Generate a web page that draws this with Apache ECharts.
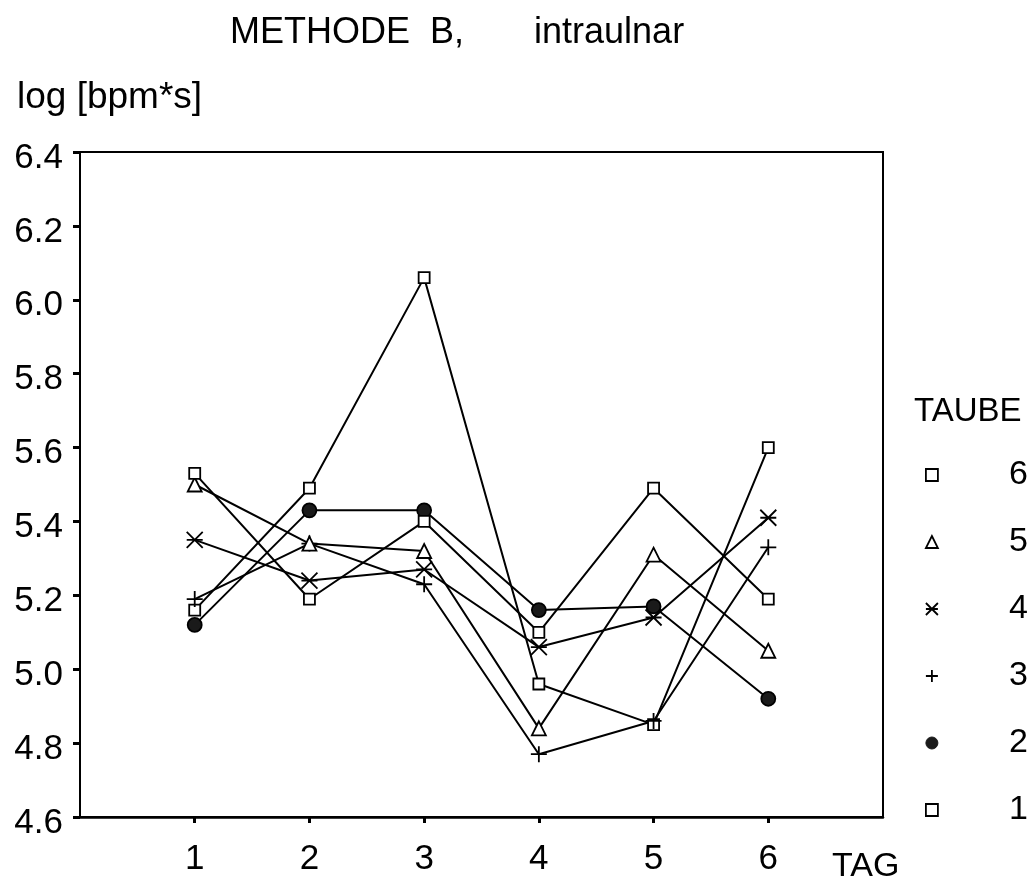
<!DOCTYPE html>
<html>
<head>
<meta charset="utf-8">
<script src="https://cdn.jsdelivr.net/npm/echarts@6/dist/echarts.min.js"></script>
<style>
  html, body { margin: 0; padding: 0; background: #fff; }
  #chart { width: 1035px; height: 877px; }
</style>
</head>
<body>
<div id="chart"></div>
<script>
var tage = [1, 2, 3, 4, 5, 6];
var taube1 = [5.16, 5.49, 6.06, 4.96, 4.85, 5.60];
var taube2 = [5.12, 5.43, 5.43, 5.16, 5.17, 4.92];
var taube3 = [5.19, 5.34, 5.23, 4.77, 4.86, 5.33];
var taube4 = [5.35, 5.24, 5.27, 5.06, 5.14, 5.41];
var taube5 = [5.50, 5.34, 5.32, 4.84, 5.31, 5.05];
var taube6 = [5.53, 5.19, 5.40, 5.10, 5.49, 5.19];

var FONT = 'Liberation Sans, Arial, sans-serif';
var symStern = 'path://M0,0L10,10M10,0L0,10M0,5L10,5';
var symPlus = 'path://M5,0L5,10M0,5L10,5';

function punkte(werte) {
  return tage.map(function (t, i) { return [t, werte[i]]; });
}

function reihe(name, werte, symbol, size, fill) {
  return {
    name: name,
    type: 'line',
    data: punkte(werte),
    symbol: symbol,
    symbolSize: size,
    showAllSymbol: true,
    lineStyle: { color: '#000', width: 2 },
    itemStyle: { color: fill, borderColor: '#000', borderWidth: 1.8 },
    emphasis: { disabled: true }
  };
}

var myChart = echarts.init(document.getElementById('chart'));

var option = {
  backgroundColor: '#fff',
  animation: false,
  title: [
    { text: 'METHODE  B,       intraulnar', left: 225, top: 10,
      textStyle: { fontFamily: FONT, fontSize: 36, fontWeight: 'normal', color: '#000' } },
    { text: 'log [bpm*s]', left: 12, top: 74,
      textStyle: { fontFamily: FONT, fontSize: 37, fontWeight: 'normal', color: '#000' } },
    { text: 'TAG', left: 827, top: 845,
      textStyle: { fontFamily: FONT, fontSize: 34, fontWeight: 'normal', color: '#000' } },
    { text: 'TAUBE', left: 909, top: 390,
      textStyle: { fontFamily: FONT, fontSize: 33, fontWeight: 'normal', color: '#000' } }
  ],
  legend: {
    orient: 'vertical',
    left: 920,
    top: 438,
    itemWidth: 12,
    itemHeight: 12,
    itemGap: 3,
    selectedMode: false,
    textStyle: { fontFamily: FONT, fontSize: 34, color: '#000', lineHeight: 40, padding: [24, 0, 0, 66] },
    data: [
      { name: '6', icon: 'rect', itemStyle: { color: '#fff', borderColor: '#000', borderWidth: 1.8 } },
      { name: '5', icon: 'triangle', itemStyle: { color: '#fff', borderColor: '#000', borderWidth: 1.8 } },
      { name: '4', icon: symStern, itemStyle: { color: '#000', borderColor: '#000', borderWidth: 1.8 } },
      { name: '3', icon: symPlus, itemStyle: { color: '#000', borderColor: '#000', borderWidth: 1.8 } },
      { name: '2', icon: 'circle', itemStyle: { color: '#1a1a1a', borderColor: '#1a1a1a', borderWidth: 1 } },
      { name: '1', icon: 'rect', itemStyle: { color: '#fff', borderColor: '#000', borderWidth: 1.8 } }
    ]
  },
  grid: {
    left: 80, right: 152, top: 152, bottom: 58,
    show: true, borderColor: '#000', borderWidth: 2, backgroundColor: 'transparent'
  },
  xAxis: {
    type: 'value',
    min: 0, max: 7, interval: 1,
    splitLine: { show: false },
    axisLine: { lineStyle: { color: '#000', width: 2.5 } },
    axisTick: { customValues: tage, length: 6, inside: false, lineStyle: { color: '#000', width: 3 } },
    axisLabel: { customValues: tage, margin: 25, fontFamily: FONT, fontSize: 35, color: '#000' }
  },
  yAxis: {
    type: 'value',
    min: 4.6, max: 6.4, interval: 0.2,
    splitLine: { show: false },
    axisLine: { lineStyle: { color: '#000', width: 2 } },
    axisTick: { length: 7, lineStyle: { color: '#000', width: 3 } },
    axisLabel: {
      margin: 17, fontFamily: FONT, fontSize: 35, color: '#000',
      verticalAlign: 'top', lineHeight: 12,
      formatter: function (v) { return v.toFixed(1); }
    }
  },
  series: [
    reihe('1', taube1, 'rect', 11, '#fff'),
    reihe('2', taube2, 'circle', 14, '#1a1a1a'),
    reihe('3', taube3, symPlus, 16, '#000'),
    reihe('4', taube4, symStern, 16, '#000'),
    reihe('5', taube5, 'triangle', 14, '#fff'),
    reihe('6', taube6, 'rect', 11, '#fff')
  ]
};

myChart.setOption(option);
</script>
</body>
</html>
